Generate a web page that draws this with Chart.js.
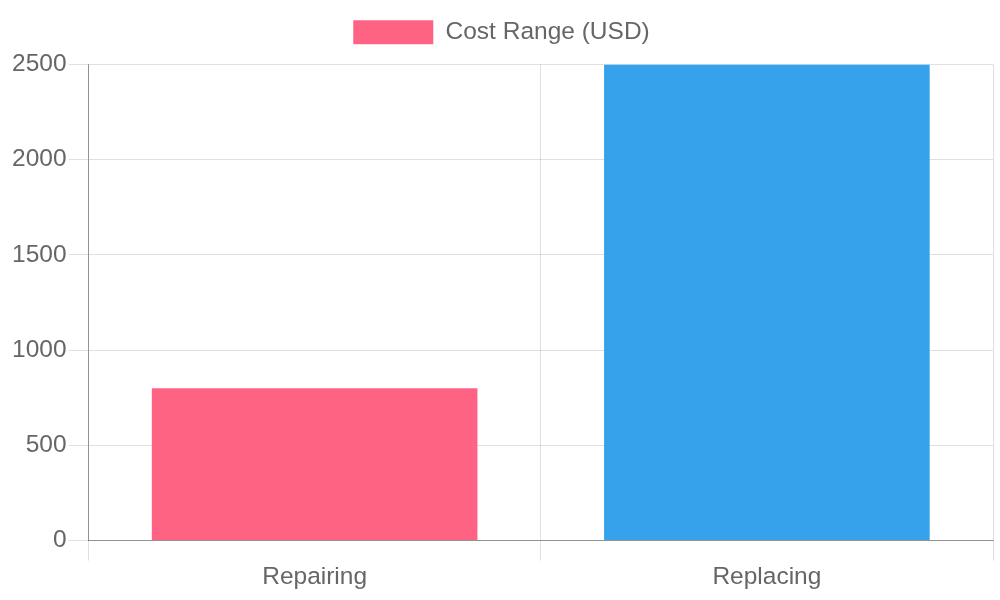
<!DOCTYPE html>
<html>
<head>
<meta charset="utf-8">
<script src="https://cdn.jsdelivr.net/npm/chart.js@4"></script>
<style>
    html, body { margin: 0; padding: 0; background: #fff; }
    #wrap { width: 1000px; height: 600px; }
</style>
</head>
<body>
<div id="wrap"><canvas id="cost-chart"></canvas></div>
<script>
// Chart data
const categories = ['Repairing', 'Replacing'];
const costValues = [800, 2500];
const barColors = ['#FF6384', '#36A2EB'];
const seriesLabel = 'Cost Range (USD)';

Chart.defaults.font.family = '"Liberation Sans", Arial, sans-serif';
Chart.defaults.font.size = 24.5;
Chart.defaults.color = '#666';

// Extra space below the legend
const legendMargin = {
    id: 'legendMargin',
    beforeInit(chart) {
        const origFit = chart.legend.fit;
        chart.legend.fit = function () {
            origFit.bind(chart.legend)();
            this.height += 10;
        };
    }
};

const ctx = document.getElementById('cost-chart').getContext('2d');
new Chart(ctx, {
    type: 'bar',
    data: {
        labels: categories,
        datasets: [{
            label: seriesLabel,
            data: costValues,
            backgroundColor: barColors,
            borderWidth: 0
        }]
    },
    options: {
        responsive: true,
        maintainAspectRatio: false,
        animation: false,
        layout: {
            padding: { top: 0, right: 7, bottom: 6, left: 10 }
        },
        plugins: {
            legend: {
                position: 'top',
                labels: { boxWidth: 80, boxHeight: 24, padding: 20 }
            }
        },
        scales: {
            x: {
                ticks: { padding: 2 },
                grid: { color: 'rgba(0,0,0,0.12)', tickLength: 20 },
                border: { color: 'rgba(0,0,0,0.35)' }
            },
            y: {
                beginAtZero: true,
                ticks: {
                    stepSize: 500,
                    padding: 2,
                    callback: value => String(value)
                },
                grid: { color: 'rgba(0,0,0,0.12)', tickLength: 20 },
                border: { color: 'rgba(0,0,0,0.35)' }
            }
        }
    },
    plugins: [legendMargin]
});
</script>
</body>
</html>
